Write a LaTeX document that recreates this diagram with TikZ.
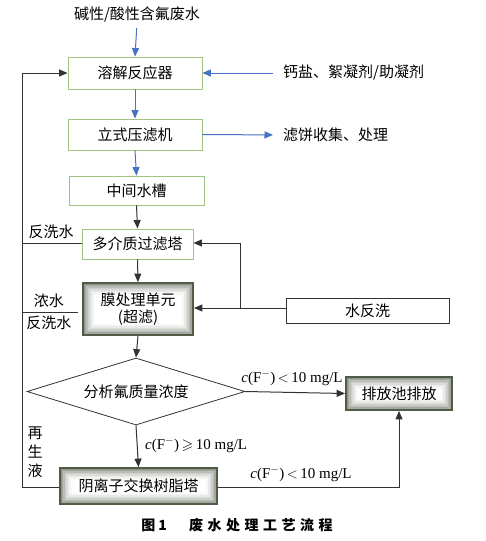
\documentclass[tikz,border=0pt]{standalone}
\usepackage{fontspec}
\usepackage{amssymb}
\setmainfont{Noto Sans CJK SC}
\newfontfamily\tms{Liberation Serif}
\usetikzlibrary{arrows.meta,calc,shapes.geometric}
\definecolor{boxgreen}{RGB}{160,196,130}
\definecolor{arrblue}{RGB}{68,114,196}
\definecolor{lineblack}{RGB}{50,50,50}
\definecolor{glowdark}{RGB}{80,92,70}
\definecolor{glowfill}{RGB}{105,112,98}
\begin{document}
\begin{tikzpicture}[x=1pt,y=-1pt,
  every node/.style={font=\fontsize{15}{18}\selectfont, inner sep=0pt},
  gbox/.style={draw=boxgreen, line width=0.9pt, fill=white},
  kbox/.style={draw=lineblack, line width=0.8pt, fill=white},
  glow/.style={draw=glowdark, line width=1.8pt, path picture={
    \foreach \d/\c in {0/75,1.5/60,3/46,4.5/34,6/24,7.5/15,9/8,10.5/3,12/0}{
      \fill[glowfill!\c!white] ($(path picture bounding box.north west)+(\d pt,-\d pt)$) rectangle ($(path picture bounding box.south east)+(-\d pt,\d pt)$);
    }}},
  barr/.style={draw=arrblue, line width=1pt, -{Triangle[length=8.5pt,width=7pt]}},
  karr/.style={draw=lineblack, line width=1pt, -{Triangle[length=8.5pt,width=7pt]}},
  kline/.style={draw=lineblack, line width=0.9pt},
  lat/.style={font=\fontsize{15}{18}\selectfont\tms},
]
\useasboundingbox (0,0) rectangle (485,541);

% nodes
\node (src) at (137,15) {碱性/酸性含氟废水};
\node[gbox, minimum width=134pt, minimum height=32pt] (r1) at (135,73) {溶解反应器};
\node[anchor=west] (chem) at (283,73) {钙盐、絮凝剂/助凝剂};
\node[gbox, minimum width=134pt, minimum height=31pt] (r2) at (135,134.5) {立式压滤机};
\node[anchor=west] (cake) at (283,135) {滤饼收集、处理};
\node[gbox, minimum width=135pt, minimum height=29pt] (r3) at (136.5,190.5) {中间水槽};
\node[gbox, minimum width=111pt, minimum height=30pt] (r4) at (137.5,244) {多介质过滤塔};
\node[glow, minimum width=110pt, minimum height=52pt, align=center] (r5) at (138,309) {膜处理单元\\[-1pt](超滤)};
\node[kbox, minimum width=163pt, minimum height=25pt] (wash) at (367.5,310.5) {水反洗};
\node[draw=lineblack, line width=0.8pt, shape=diamond, aspect=3.25, minimum width=218pt, minimum height=67pt] (dia) at (136,391.5) {分析氟质量浓度};
\node[glow, minimum width=106pt, minimum height=33pt] (out) at (399,393.5) {排放池排放};
\node[glow, minimum width=157pt, minimum height=36pt] (ion) at (138.5,486) {阴离子交换树脂塔};

% side labels
\node (lb1) at (51,232) {反洗水};
\node (lb2) at (49,301) {浓水};
\node (lb3) at (49,323) {反洗水};
\node[align=center] (lb4) at (35,452) {再\\[1pt]生\\[1pt]液};
\node[lat] (c1) at (292,378) {\textit{c}(F$^{-}$)\,$<$\,10 mg/L};
\node[lat, anchor=west] (c2) at (145,445) {\textit{c}(F$^{-}$)\,$\geqslant$\,10 mg/L};
\node[lat] (c3) at (301,474) {\textit{c}(F$^{-}$)\,$<$\,10 mg/L};
\node[font=\fontsize{14}{16}\selectfont\bfseries] (cap) at (237,525) {图\hspace{3pt}1\hspace{22pt}废\hspace{4.5pt}水\hspace{4.5pt}处\hspace{4.5pt}理\hspace{4.5pt}工\hspace{4.5pt}艺\hspace{4.5pt}流\hspace{4.5pt}程};

% helper coordinates
\coordinate (lx1) at (22,73);
\coordinate (lx2) at (22,487);
\coordinate (bx1) at (240,243);
\coordinate (bx2) at (240,308);
\coordinate (ox) at (399,487);

% blue arrows
\draw[barr, shorten <=5pt] (src.south) -- (r1.north);
\draw[barr, shorten <=10pt] (chem.west) -- (r1.east);
\draw[barr] (r1.south) -- (r2.north);
\draw[barr, shorten >=10pt] (r2.east) -- (cake.west);
\draw[barr] (r2.south) -- (r3.north);

% black arrows
\draw[karr] (r3.south) -- (r4.north);
\draw[karr] (r4.south) -- (r5.north);
\draw[karr] (r5.south) -- (dia.north);
\draw[karr] (wash.west |- bx2) -- (r5.east |- bx2);
\draw[karr] (bx2) -- (bx1) -- (r4.east |- bx1);
\draw[karr] (dia.east) -- (out.west);
\draw[karr] (dia.south) -- (ion.north);
\draw[karr] (ion.east |- ox) -- (ox) -- (out.south);

% left return line
\draw[karr] (ion.west |- lx2) -- (lx2) -- (lx1) -- (r1.west);
\draw[kline] (r4.west |- 0,243) -- (22,243);
\draw[kline] (22,312) -- (78,312);
\end{tikzpicture}
\end{document}
